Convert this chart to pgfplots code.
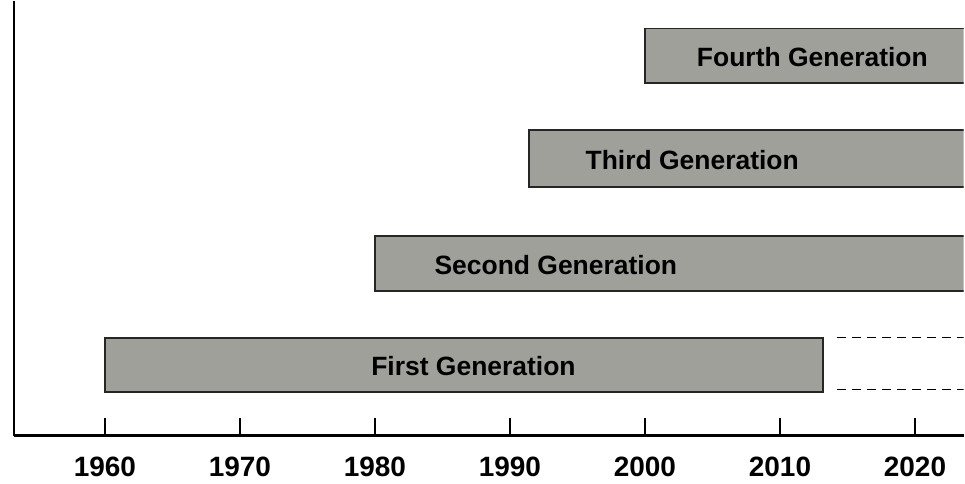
\documentclass[border=0pt]{standalone}
\usepackage{pgfplots}
\pgfplotsset{compat=1.18}
\usepackage{fontspec}
\setmainfont{Liberation Sans}
\definecolor{barfill}{RGB}{160,160,155}
\begin{document}
\begin{tikzpicture}
\begin{axis}[
  scale only axis,
  width=951pt, height=435pt,
  xmin=1953.27, xmax=2023.6,
  ymin=0, ymax=435,
  axis x line*=bottom, axis y line*=left,
  axis line style={line width=2.8pt, black},
  xtick={1960,1970,...,2020},
  ytick=\empty,
  tick align=inside,
  major tick length=18pt,
  xtick style={line width=1.8pt, black},
  xticklabel style={font=\bfseries\fontsize{28}{28}\selectfont, yshift=-18pt},
  /pgf/number format/assume math mode=true,
  xticklabel={\pgfmathprintnumber[1000 sep={}]{\tick}},
  clip=true,
]
% First Generation
\addplot[fill=barfill, draw=black!85, line width=1.6pt] coordinates {(1960,44) (2013.2,44) (2013.2,98) (1960,98)} -- cycle;
% Second Generation
\addplot[fill=barfill, draw=black!85, line width=1.6pt] coordinates {(1980,145) (2030,145) (2030,200) (1980,200)} -- cycle;
% Third Generation
\addplot[fill=barfill, draw=black!85, line width=1.6pt] coordinates {(1991.4,249) (2030,249) (2030,306) (1991.4,306)} -- cycle;
% Fourth Generation
\addplot[fill=barfill, draw=black!85, line width=1.6pt] coordinates {(2000,353) (2030,353) (2030,408) (2000,408)} -- cycle;
% dashed continuation
\addplot[black, line width=1pt, dash pattern=on 9pt off 6pt] coordinates {(2014.24,98) (2024,98)};
\addplot[black, line width=1pt, dash pattern=on 9pt off 6pt] coordinates {(2014.24,46) (2024,46)};
\node[font=\bfseries\fontsize{26.5}{26.5}\selectfont] at (axis cs:1987.3,70) {First Generation};
\node[font=\bfseries\fontsize{26.5}{26.5}\selectfont] at (axis cs:1993.4,171) {Second Generation};
\node[font=\bfseries\fontsize{26.5}{26.5}\selectfont] at (axis cs:2003.5,276) {Third Generation};
\node[font=\bfseries\fontsize{26.5}{26.5}\selectfont] at (axis cs:2012.4,379) {Fourth Generation};
\end{axis}
\path[use as bounding box] (-14pt,-48pt) rectangle (951pt,435pt);
\end{tikzpicture}
\end{document}
